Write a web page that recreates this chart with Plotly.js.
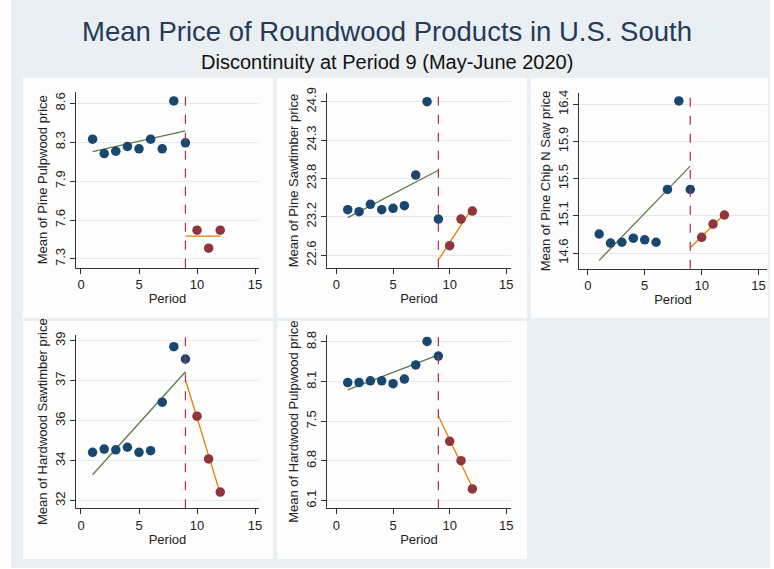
<!DOCTYPE html>
<html>
<head>
<meta charset="utf-8">
<script src="https://cdn.plot.ly/plotly-3.0.1.min.js"></script>
<style>html,body{margin:0;padding:0;background:#fff;}#chart{width:774px;height:569px;}</style>
</head>
<body>
<div id="chart"></div>
<script>
// ---------------- DATA ----------------
const period = [1, 2, 3, 4, 5, 6, 7, 8, 9, 10, 11, 12];
const cutoff = 9;

const pinePulpwood   = [8.30, 8.18, 8.20, 8.24, 8.22, 8.30, 8.22, 8.62, 8.27, 7.54, 7.39, 7.54];
const pineSawtimber  = [23.28, 23.25, 23.36, 23.28, 23.30, 23.34, 23.80, 24.90, 23.14, 22.74, 23.14, 23.26];
const pineChipNSaw   = [14.83, 14.72, 14.73, 14.78, 14.76, 14.73, 15.37, 16.44, 15.37, 14.79, 14.95, 15.06];
const hwSawtimber    = [34.12, 34.26, 34.23, 34.34, 34.12, 34.19, 36.31, 38.74, 38.20, 35.70, 33.83, 32.38];
const hwPulpwood     = [8.11, 8.11, 8.14, 8.14, 8.09, 8.17, 8.41, 8.81, 8.56, 7.11, 6.78, 6.30];

const yTitles = ["Mean of Pine Pulpwood price", "Mean of Pine Sawtimber price",
                 "Mean of Pine Chip N Saw price", "Mean of Hardwood Sawtimber price",
                 "Mean of Hardwood Pulpwood price"];

const yTickVals1 = [7.3, 7.625, 7.95, 8.275, 8.6];      const yTickText1 = ["7.3", "7.6", "7.9", "8.3", "8.6"];
const yTickVals2 = [22.6, 23.175, 23.75, 24.325, 24.9]; const yTickText2 = ["22.6", "23.2", "23.8", "24.3", "24.9"];
const yTickVals3 = [14.6, 15.05, 15.5, 15.95, 16.4];    const yTickText3 = ["14.6", "15.1", "15.5", "15.9", "16.4"];
const yTickVals4 = [32, 33.75, 35.5, 37.25, 39];        const yTickText4 = ["32", "34", "36", "37", "39"];
const yTickVals5 = [6.1, 6.775, 7.45, 8.125, 8.8];      const yTickText5 = ["6.1", "6.8", "7.5", "8.1", "8.8"];
const xTickVals = [0, 5, 10, 15];

// ---------------- STYLE / LAYOUT ----------------
const W = 774, H = 569;
const px = v => v / W;
const py = v => 1 - v / H;
const FONT = "Liberation Sans, Arial, sans-serif";
const C_PRE = "#1a476f", C_POST = "#90353b", C_FITPRE = "#5f7a45", C_FITPOST = "#e37e00", C_CUT = "#a83246";

const series = [pinePulpwood, pineSawtimber, pineChipNSaw, hwSawtimber, hwPulpwood];
const tickSets = [[yTickVals1, yTickText1], [yTickVals2, yTickText2], [yTickVals3, yTickText3],
                  [yTickVals4, yTickText4], [yTickVals5, yTickText5]];

const panels = [
  {xd: [76, 259],  yd: [91.7, 267.7],  xr: [-0.43, 15.34], yr: [7.227, 8.697]},
  {xd: [327, 511], yd: [93.3, 267.7],  xr: [-0.83, 15.41], yr: [22.41, 25.026]},
  {xd: [579, 767], yd: [93.3, 268.7],  xr: [-0.77, 15.74], yr: [14.41, 16.533]},
  {xd: [76, 259],  yd: [335, 508.3],   xr: [-0.43, 15.34], yr: [31.67, 39.25]},
  {xd: [327, 511], yd: [335, 508.3],   xr: [-0.83, 15.41], yr: [5.97, 8.919]}
];

function ols(xs, ys) {
  const n = xs.length;
  const mx = xs.reduce((a, b) => a + b, 0) / n;
  const my = ys.reduce((a, b) => a + b, 0) / n;
  let sxy = 0, sxx = 0;
  for (let i = 0; i < n; i++) { sxy += (xs[i] - mx) * (ys[i] - my); sxx += (xs[i] - mx) ** 2; }
  const b = sxy / sxx;
  return x => my + b * (x - mx);
}

const traces = [];
const layout = {
  width: W, height: H,
  margin: {l: 0, r: 0, t: 0, b: 0},
  paper_bgcolor: "#ffffff",
  plot_bgcolor: "#ffffff",
  showlegend: false,
  font: {family: FONT, color: "#222"},
  title: {text: "Mean Price of Roundwood Products in U.S. South", x: 0.5, xanchor: "center",
          y: py(31), yanchor: "middle", font: {size: 27.5, color: "#263b57", family: FONT}},
  annotations: [
    {text: "Discontinuity at Period 9 (May-June 2020)", xref: "paper", yref: "paper",
     x: 0.5, y: py(62), xanchor: "center", yanchor: "middle", showarrow: false,
     font: {size: 20, color: "#111", family: FONT}}
  ],
  shapes: [
    {type: "rect", xref: "paper", yref: "paper", x0: px(11), x1: px(770), y0: py(568), y1: py(0),
     fillcolor: "#e9eff2", line: {width: 0}, layer: "below"},
    {type: "rect", xref: "paper", yref: "paper", x0: px(23), x1: px(273), y0: py(318), y1: py(78),
     fillcolor: "#fdfdfd", line: {width: 0}, layer: "below"},
    {type: "rect", xref: "paper", yref: "paper", x0: px(277), x1: px(527), y0: py(318), y1: py(78),
     fillcolor: "#fdfdfd", line: {width: 0}, layer: "below"},
    {type: "rect", xref: "paper", yref: "paper", x0: px(531), x1: px(768), y0: py(318), y1: py(78),
     fillcolor: "#fdfdfd", line: {width: 0}, layer: "below"},
    {type: "rect", xref: "paper", yref: "paper", x0: px(23), x1: px(273), y0: py(559), y1: py(321),
     fillcolor: "#fdfdfd", line: {width: 0}, layer: "below"},
    {type: "rect", xref: "paper", yref: "paper", x0: px(277), x1: px(527), y0: py(559), y1: py(321),
     fillcolor: "#fdfdfd", line: {width: 0}, layer: "below"}
  ]
};

series.forEach((vals, k) => {
  const idx = k === 0 ? "" : String(k + 1);
  const xa = "x" + idx, ya = "y" + idx;
  const preX = [], preY = [], postX = [], postY = [];
  period.forEach((p, i) => {
    if (p <= cutoff) { preX.push(p); preY.push(vals[i]); } else { postX.push(p); postY.push(vals[i]); }
  });
  const fPre = ols(preX, preY), fPost = ols(postX, postY);
  const preX0 = Math.min(...preX), postX1 = Math.max(...postX);

  traces.push({x: [preX0, cutoff], y: [fPre(preX0), fPre(cutoff)], xaxis: xa, yaxis: ya,
               mode: "lines", line: {color: C_FITPRE, width: 1.3}, hoverinfo: "skip"});
  traces.push({x: [cutoff, postX1], y: [fPost(cutoff), fPost(postX1)], xaxis: xa, yaxis: ya,
               mode: "lines", line: {color: C_FITPOST, width: 1.3}, hoverinfo: "skip"});
  traces.push({x: preX, y: preY, xaxis: xa, yaxis: ya, mode: "markers",
               marker: {color: C_PRE, size: 9.5}});
  traces.push({x: postX, y: postY, xaxis: xa, yaxis: ya, mode: "markers",
               marker: {color: C_POST, size: 9.5}});

  const g = panels[k];
  layout["xaxis" + idx] = {
    domain: [px(g.xd[0]), px(g.xd[1])], range: g.xr, anchor: ya,
    tickvals: xTickVals, ticks: "outside", ticklen: 5, tickcolor: "#333",
    showline: true, linecolor: "#333", linewidth: 1, showgrid: false, zeroline: false,
    tickfont: {size: 13, color: "#222"},
    title: {text: "Period", font: {size: 13, color: "#222"}, standoff: 2}
  };
  layout["yaxis" + idx] = {
    domain: [py(g.yd[1]), py(g.yd[0])], range: g.yr, anchor: xa,
    tickvals: tickSets[k][0], ticktext: tickSets[k][1], tickangle: -90,
    ticks: "outside", ticklen: 5, tickcolor: "#333",
    showline: true, linecolor: "#333", linewidth: 1,
    showgrid: true, gridcolor: "#e6e9ea", gridwidth: 1, zeroline: false,
    tickfont: {size: 13, color: "#222"},
    title: {text: yTitles[k], font: {size: 13, color: "#222"}, standoff: 2}
  };
  layout.shapes.push({type: "line", xref: xa, yref: ya + " domain", x0: cutoff, x1: cutoff, y0: 0, y1: 1,
                      line: {color: C_CUT, width: 1.2, dash: "dash"}});
});

Plotly.newPlot("chart", traces, layout, {staticPlot: true, displayModeBar: false});
</script>
</body>
</html>
